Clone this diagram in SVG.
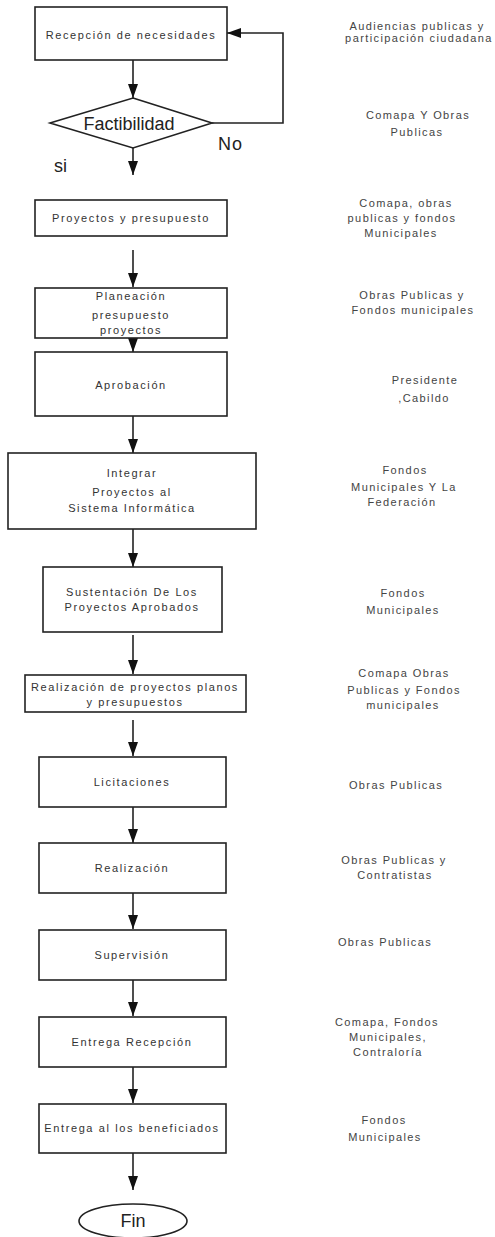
<svg xmlns="http://www.w3.org/2000/svg" width="495" height="1237" viewBox="0 0 495 1237">
<style>
.box{fill:#fff;stroke:#222;stroke-width:1.6}
.t{font-family:"Liberation Sans",Arial,sans-serif;font-size:11px;fill:#333;text-anchor:middle;letter-spacing:1.6px}
.r{font-family:"Liberation Sans",Arial,sans-serif;font-size:11px;fill:#444;text-anchor:middle;letter-spacing:1.4px}
.big{font-family:"Liberation Sans",Arial,sans-serif;font-size:18px;fill:#222}
.c{fill:none;stroke:#222;stroke-width:1.6}
</style>
<defs>
<marker id="ah" viewBox="0 0 14 10" refX="14" refY="5" markerWidth="14" markerHeight="11" markerUnits="userSpaceOnUse" orient="auto">
<path d="M0,0 L14,5 L0,10 z" fill="#111"/>
</marker>
</defs>
<rect width="495" height="1237" fill="#fff"/>
<g id="connectors">
<line class="c" x1="133" y1="60" x2="133" y2="98" marker-end="url(#ah)"/>
<polyline class="c" points="212,123 283,123 283,33 227,33" marker-end="url(#ah)"/>
<line class="c" x1="133" y1="148" x2="133" y2="175" marker-end="url(#ah)"/>
<line class="c" x1="133" y1="250" x2="133" y2="287" marker-end="url(#ah)"/>
<line class="c" x1="133" y1="338" x2="133" y2="352" marker-end="url(#ah)"/>
<line class="c" x1="133" y1="416" x2="133" y2="453" marker-end="url(#ah)"/>
<line class="c" x1="133" y1="529" x2="133" y2="567" marker-end="url(#ah)"/>
<line class="c" x1="133" y1="635" x2="133" y2="674" marker-end="url(#ah)"/>
<line class="c" x1="133" y1="720" x2="133" y2="756" marker-end="url(#ah)"/>
<line class="c" x1="133" y1="807" x2="133" y2="843" marker-end="url(#ah)"/>
<line class="c" x1="133" y1="893" x2="133" y2="929" marker-end="url(#ah)"/>
<line class="c" x1="133" y1="980" x2="133" y2="1016" marker-end="url(#ah)"/>
<line class="c" x1="133" y1="1067" x2="133" y2="1103" marker-end="url(#ah)"/>
<line class="c" x1="133" y1="1153" x2="133" y2="1190" stroke-width="2.4" marker-end="url(#ah)"/>
</g>
<g id="n1"><rect class="box" x="35" y="7" width="192" height="53"/><text class="t" x="131" y="39">Recepción de necesidades</text></g>
<g id="n2"><polygon class="box" points="133,98 212,123 133,148 50,123"/><text class="big" x="129" y="130" text-anchor="middle" font-size="19px">Factibilidad</text></g>
<text class="big" x="218" y="150" letter-spacing="1">No</text>
<text class="big" x="54" y="172">si</text>
<g id="n3"><rect class="box" x="35" y="200" width="192" height="36"/><text class="t" x="131" y="222">Proyectos y presupuesto</text></g>
<g id="n4"><rect class="box" x="35" y="288" width="192" height="50"/><text class="t" x="131" y="300">Planeación</text><text class="t" x="131" y="319">presupuesto</text><text class="t" x="131" y="334">proyectos</text></g>
<g id="n5"><rect class="box" x="35" y="352" width="192" height="64"/><text class="t" x="131" y="389">Aprobación</text></g>
<g id="n6"><rect class="box" x="8" y="453" width="248" height="76"/><text class="t" x="132" y="477">Integrar</text><text class="t" x="132" y="496">Proyectos al</text><text class="t" x="132" y="512">Sistema Informática</text></g>
<g id="n7"><rect class="box" x="43" y="567" width="179" height="65"/><text class="t" x="132" y="596">Sustentación De Los</text><text class="t" x="132" y="611">Proyectos Aprobados</text></g>
<g id="n8"><rect class="box" x="25" y="675" width="221" height="37"/><text class="t" x="135" y="691">Realización de proyectos planos</text><text class="t" x="135" y="706">y presupuestos</text></g>
<g id="n9"><rect class="box" x="39" y="757" width="187" height="50"/><text class="t" x="132" y="786">Licitaciones</text></g>
<g id="n10"><rect class="box" x="39" y="843" width="187" height="50"/><text class="t" x="132" y="872">Realización</text></g>
<g id="n11"><rect class="box" x="39" y="930" width="187" height="50"/><text class="t" x="132" y="959">Supervisión</text></g>
<g id="n12"><rect class="box" x="39" y="1017" width="187" height="50"/><text class="t" x="132" y="1046">Entrega Recepción</text></g>
<g id="n13"><rect class="box" x="39" y="1104" width="187" height="49"/><text class="t" x="132" y="1132">Entrega al los beneficiados</text></g>
<g id="n14"><ellipse class="box" cx="133" cy="1221" rx="54" ry="17"/><text class="big" x="133" y="1227" text-anchor="middle">Fin</text></g>
<g id="labels">
<text class="r" x="417" y="30">Audiencias publicas y</text>
<text class="r" x="419" y="42">participación ciudadana</text>
<text class="r" x="418" y="119">Comapa Y Obras</text>
<text class="r" x="417" y="136">Publicas</text>
<text class="r" x="406" y="207">Comapa, obras</text>
<text class="r" x="402" y="222">publicas y fondos</text>
<text class="r" x="401" y="237">Municipales</text>
<text class="r" x="412" y="299">Obras Publicas y</text>
<text class="r" x="413" y="314">Fondos municipales</text>
<text class="r" x="425" y="384">Presidente</text>
<text class="r" x="424" y="402">,Cabildo</text>
<text class="r" x="405" y="474">Fondos</text>
<text class="r" x="404" y="491">Municipales Y La</text>
<text class="r" x="402" y="506">Federación</text>
<text class="r" x="403" y="597">Fondos</text>
<text class="r" x="403" y="614">Municipales</text>
<text class="r" x="404" y="677">Comapa Obras</text>
<text class="r" x="404" y="694">Publicas y Fondos</text>
<text class="r" x="403" y="709">municipales</text>
<text class="r" x="396" y="789">Obras Publicas</text>
<text class="r" x="394" y="864">Obras Publicas y</text>
<text class="r" x="395" y="879">Contratistas</text>
<text class="r" x="385" y="946">Obras Publicas</text>
<text class="r" x="387" y="1026">Comapa, Fondos</text>
<text class="r" x="388" y="1041">Municipales,</text>
<text class="r" x="388" y="1056">Contraloría</text>
<text class="r" x="384" y="1124">Fondos</text>
<text class="r" x="385" y="1141">Municipales</text>
</g>
</svg>
